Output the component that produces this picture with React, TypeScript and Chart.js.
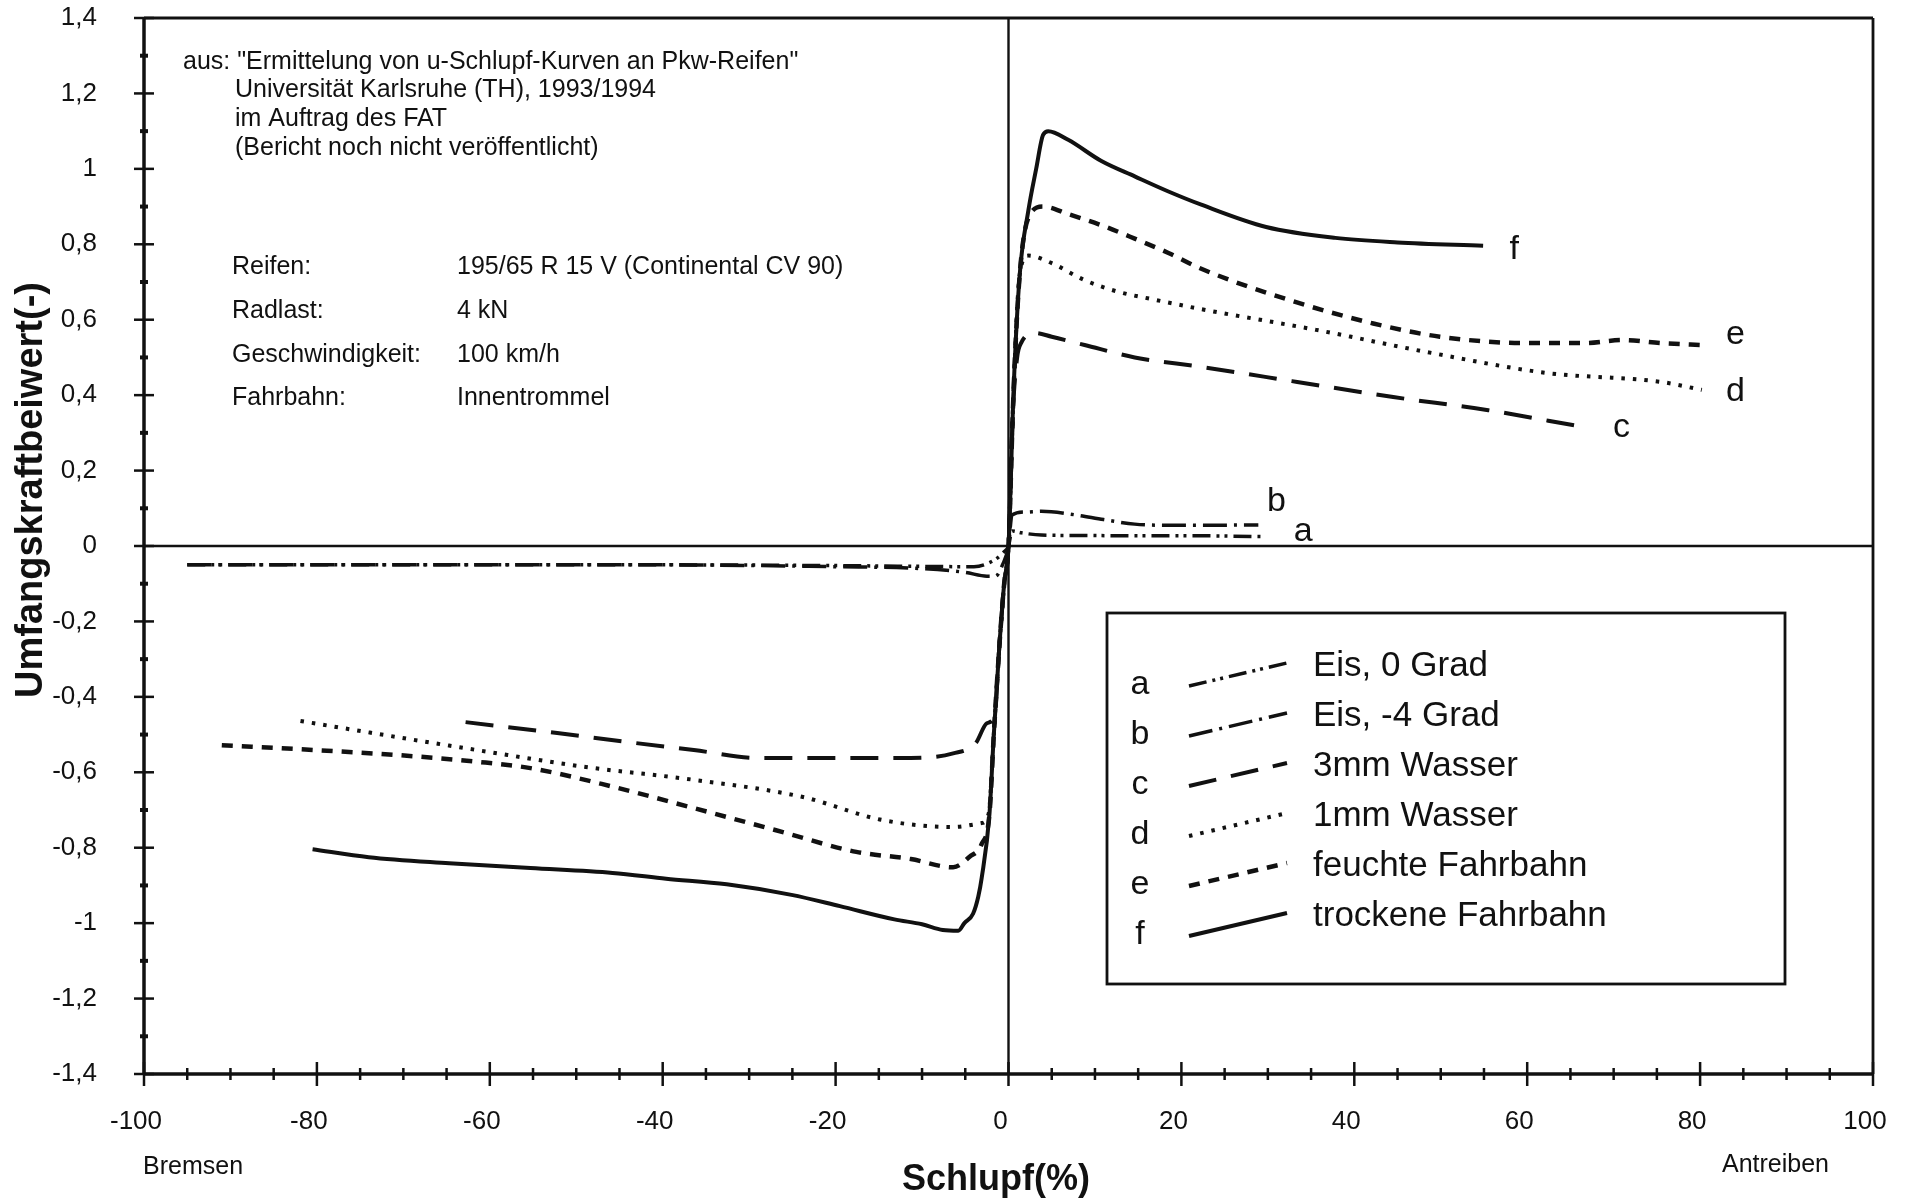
import React, { useEffect, useRef } from 'react';
import { Chart, registerables } from 'chart.js';

Chart.register(...registerables);

// ---------- data ----------
const aX = [-95, -80, -60, -40, -20, -10, -4, -1.5, -0.5, 0, 0.4, 1.5, 3.8, 8, 15, 22, 29.3];
const aY = [-0.05, -0.05, -0.05, -0.05, -0.052, -0.054, -0.055, -0.035, -0.015, 0, 0.04, 0.035, 0.029, 0.028, 0.027, 0.027, 0.025];

const bX = [-95, -80, -60, -40, -20, -10, -5, -2.5, -1.5, -0.7, 0, 0.4, 2, 3.8, 7.6, 11, 14.6, 18, 22.3, 28.9];
const bY = [-0.05, -0.05, -0.05, -0.05, -0.055, -0.06, -0.07, -0.08, -0.08, -0.05, 0, 0.082, 0.09, 0.092, 0.083, 0.07, 0.058, 0.055, 0.055, 0.056];

const cX = [-62.8, -52.2, -44, -36.4, -28.9, -20, -11.3, -6.4, -3.8, -2.5, -1.6, -1.1, -0.5, 0, 0.5, 1.0, 1.5, 3.0, 5, 8.8, 14.6, 22.3, 33.4, 44.5, 55.5, 65.9];
const cY = [-0.467, -0.496, -0.52, -0.541, -0.562, -0.562, -0.562, -0.55, -0.523, -0.47, -0.45, -0.28, -0.1, 0, 0.35, 0.5, 0.54, 0.565, 0.555, 0.533, 0.5, 0.475, 0.435, 0.395, 0.36, 0.318];

const dX = [-81.9, -70.9, -61.5, -48.9, -36.4, -23.9, -14.5, -6.4, -3.2, -2.3, -1.7, -1.1, -0.5, 0, 0.6, 1.3, 2.3, 5, 8.8, 12.7, 16.5, 22.3, 35.6, 48.9, 62.2, 75.5, 80.2];
const dY = [-0.464, -0.506, -0.541, -0.586, -0.62, -0.665, -0.727, -0.745, -0.735, -0.71, -0.5, -0.28, -0.1, 0, 0.42, 0.72, 0.77, 0.75, 0.705, 0.674, 0.655, 0.628, 0.573, 0.512, 0.459, 0.435, 0.414];

const eX = [-91, -80.3, -70.9, -61.5, -55.3, -45.8, -36.4, -27, -17.6, -11.3, -6.4, -4.5, -3.1, -2.2, -1.7, -1.1, -0.5, 0, 0.6, 1.3, 2.3, 4.0, 6.9, 10.8, 14.6, 18.5, 22.3, 32.5, 42.2, 49.9, 60, 66.6, 71, 75.5, 80.2];
const eY = [-0.528, -0.541, -0.554, -0.572, -0.589, -0.638, -0.695, -0.753, -0.811, -0.83, -0.852, -0.824, -0.79, -0.71, -0.5, -0.28, -0.1, 0, 0.42, 0.72, 0.87, 0.9, 0.88, 0.85, 0.815, 0.777, 0.735, 0.652, 0.59, 0.555, 0.538, 0.538, 0.546, 0.538, 0.533];

const fX = [-80.5, -74, -64.7, -55.3, -45.8, -39.6, -32.6, -25.1, -19.5, -13.2, -10, -7.6, -5.8, -5.1, -4.1, -3.5, -3.1, -2.2, -1.7, -1.1, -0.5, 0, 0.6, 1.3, 2.3, 3.2, 4.0, 4.6, 6.9, 10.8, 14.6, 18.5, 22.3, 29.8, 37.8, 45, 54.9];
const fY = [-0.804, -0.825, -0.841, -0.854, -0.867, -0.882, -0.897, -0.925, -0.955, -0.99, -1.003, -1.018, -1.02, -1.0, -0.975, -0.93, -0.88, -0.71, -0.5, -0.28, -0.1, 0, 0.42, 0.72, 0.89, 1.0, 1.09, 1.1, 1.077, 1.02, 0.98, 0.94, 0.905, 0.846, 0.817, 0.805, 0.796];

const seriesLetters = ['a', 'b', 'c', 'd', 'e', 'f'];
const seriesNames = ['Eis, 0 Grad', 'Eis, -4 Grad', '3mm Wasser', '1mm Wasser', 'feuchte Fahrbahn', 'trockene Fahrbahn'];
const seriesX = [aX, bX, cX, dX, eX, fX];
const seriesY = [aY, bY, cY, dY, eY, fY];

// where the curve letters sit (data coordinates)
const curveLabelX = [34.1, 31.0, 70.9, 84.1, 84.1, 58.5];
const curveLabelY = [0.037, 0.117, 0.315, 0.41, 0.56, 0.785];

const sourceLines = [
  'aus: "Ermittelung von u-Schlupf-Kurven an Pkw-Reifen"',
  'Universität Karlsruhe (TH), 1993/1994',
  'im Auftrag des FAT',
  '(Bericht noch nicht veröffentlicht)',
];
const paramLabels = ['Reifen:', 'Radlast:', 'Geschwindigkeit:', 'Fahrbahn:'];
const paramValues = ['195/65 R 15 V (Continental CV 90)', '4 kN', '100 km/h', 'Innentrommel'];

const xTitle = 'Schlupf(%)';
const yTitle = 'Umfangskraftbeiwert(-)';
const leftNote = 'Bremsen';
const rightNote = 'Antreiben';

// ---------- styles ----------
const INK = '#111';
const FONT = '"Liberation Sans", Arial, Helvetica, sans-serif';
const dashes: number[][] = [
  [18, 6, 3, 5, 3, 6],
  [24, 7, 3, 7],
  [28, 15],
  [3.5, 8],
  [11, 9],
  [],
];
const widths = [3.5, 3.5, 4, 4, 4.5, 4];

const fmt = (v: number) => {
  const r = Math.round(v * 10) / 10;
  return String(r).replace('.', ',');
};

const zeroPad = (s: any) => {
  s.paddingTop = 0;
  s.paddingBottom = 0;
  s.paddingLeft = 0;
  s.paddingRight = 0;
};

const decorPlugin = {
  id: 'decor',
  beforeDatasetsDraw(chart: any) {
    const { ctx, chartArea: ca, scales } = chart;
    const xs = scales.x;
    const ys = scales.y;
    ctx.save();
    ctx.strokeStyle = INK;
    ctx.lineCap = 'butt';
    const line = (x1: number, y1: number, x2: number, y2: number, w: number) => {
      ctx.lineWidth = w;
      ctx.beginPath();
      ctx.moveTo(x1, y1);
      ctx.lineTo(x2, y2);
      ctx.stroke();
    };
    // frame
    line(ca.left, ca.top, ca.right, ca.top, 2.8);
    line(ca.right, ca.top, ca.right, ca.bottom, 2.8);
    line(ca.left, ca.top - 1, ca.left, ca.bottom + 1, 3.5);
    line(ca.left, ca.bottom, ca.right + 1, ca.bottom, 3.5);
    // zero lines
    const x0 = xs.getPixelForValue(0);
    const y0 = ys.getPixelForValue(0);
    line(x0, ca.top, x0, ca.bottom, 2.4);
    line(ca.left, y0, ca.right, y0, 2.4);
    // y ticks: crosses at 0.2, blobs at 0.1
    for (let i = -14; i <= 14; i++) {
      const py = ys.getPixelForValue(i / 10);
      if (i % 2 === 0) line(ca.left - 10, py, ca.left + 10, py, 2.5);
      else line(ca.left - 4, py, ca.left + 4, py, 4);
    }
    // x ticks: long at 20, short at 5
    for (let v = -100; v <= 100; v += 5) {
      const px = xs.getPixelForValue(v);
      if (v % 20 === 0) line(px, ca.bottom - 12, px, ca.bottom + 12, 2.5);
      else line(px, ca.bottom - 6, px, ca.bottom + 6, 2.5);
    }
    ctx.restore();
  },
  afterDraw(chart: any) {
    const { ctx, chartArea: ca, scales } = chart;
    const xs = scales.x;
    const ys = scales.y;
    ctx.save();
    ctx.fillStyle = INK;
    ctx.strokeStyle = INK;
    ctx.textBaseline = 'middle';
    ctx.textAlign = 'left';

    // source note
    ctx.font = `25px ${FONT}`;
    ctx.fillText(sourceLines[0], ca.left + 39, ca.top + 44);
    const srcY = [72, 101, 130];
    for (let i = 1; i < sourceLines.length; i++) {
      ctx.fillText(sourceLines[i], ca.left + 91, ca.top + srcY[i - 1]);
    }
    // parameters
    const parY = [249, 293, 337, 380];
    for (let i = 0; i < paramLabels.length; i++) {
      ctx.fillText(paramLabels[i], ca.left + 88, ca.top + parY[i]);
      ctx.fillText(paramValues[i], ca.left + 313, ca.top + parY[i]);
    }

    // curve letters
    ctx.font = `34px ${FONT}`;
    ctx.textAlign = 'center';
    for (let i = 0; i < seriesLetters.length; i++) {
      ctx.fillText(seriesLetters[i], xs.getPixelForValue(curveLabelX[i]), ys.getPixelForValue(curveLabelY[i]));
    }

    // legend box
    const bx = 1107, by = 613, bw = 678, bh = 371;
    ctx.lineWidth = 2.8;
    ctx.strokeRect(bx, by, bw, bh);
    for (let i = 0; i < seriesNames.length; i++) {
      const labelY = by + 53 + i * 50;
      const letterY = labelY + 19;
      ctx.font = `34px ${FONT}`;
      ctx.textAlign = 'center';
      ctx.fillText(seriesLetters[i], bx + 33, letterY);
      ctx.save();
      ctx.setLineDash(dashes[i]);
      ctx.lineWidth = widths[i];
      ctx.beginPath();
      ctx.moveTo(bx + 82, letterY + 1);
      ctx.lineTo(bx + 180, labelY - 3);
      ctx.stroke();
      ctx.restore();
      ctx.font = `35px ${FONT}`;
      ctx.textAlign = 'left';
      ctx.fillText(seriesNames[i], bx + 206, labelY);
    }

    // bottom notes
    ctx.font = `25px ${FONT}`;
    ctx.textAlign = 'left';
    ctx.fillText(leftNote, 143, 1167);
    ctx.textAlign = 'right';
    ctx.fillText(rightNote, 1829, 1165);

    // axis titles
    ctx.font = `bold 36px ${FONT}`;
    ctx.textAlign = 'center';
    ctx.fillText(xTitle, 996, 1180);
    ctx.save();
    ctx.translate(32, 490);
    ctx.rotate(-Math.PI / 2);
    ctx.font = `bold 38px ${FONT}`;
    ctx.fillText(yTitle, 0, 0);
    ctx.restore();

    ctx.restore();
  },
};

export default function App() {
  const ref = useRef<HTMLCanvasElement | null>(null);
  useEffect(() => {
    if (!ref.current) return;
    const datasets = seriesX.map((xsArr, i) => ({
      label: seriesNames[i],
      data: xsArr.map((xv, j) => ({ x: xv, y: seriesY[i][j] })),
      borderColor: INK,
      borderWidth: widths[i],
      borderDash: dashes[i],
      borderCapStyle: 'butt' as const,
      pointRadius: 0,
      fill: false,
      cubicInterpolationMode: 'monotone' as const,
    }));
    const chart = new Chart(ref.current, {
      type: 'line',
      data: { datasets },
      options: {
        animation: false,
        responsive: false,
        maintainAspectRatio: false,
        layout: { padding: { top: 18, right: 39, left: 0, bottom: 0 } },
        plugins: { legend: { display: false }, tooltip: { enabled: false } },
        scales: {
          x: {
            type: 'linear',
            min: -100,
            max: 100,
            grid: { display: false, drawTicks: false },
            border: { display: false },
            ticks: {
              stepSize: 20,
              padding: 32,
              labelOffset: -8,
              color: INK,
              font: { family: FONT, size: 26 },
              maxRotation: 0,
              autoSkip: false,
            },
            afterFit: (s: any) => { s.height = 127; zeroPad(s); },
          },
          y: {
            type: 'linear',
            min: -1.4,
            max: 1.4,
            grid: { display: false, drawTicks: false },
            border: { display: false },
            ticks: {
              stepSize: 0.2,
              padding: 47,
              color: INK,
              font: { family: FONT, size: 26 },
              autoSkip: false,
              callback: (v: any) => fmt(Number(v)),
            },
            afterFit: (s: any) => { s.width = 144; zeroPad(s); },
          },
        },
      },
      plugins: [decorPlugin],
    });
    return () => chart.destroy();
  }, []);
  return (
    <div style={{ position: 'fixed', left: 0, top: 0, width: 1912, height: 1201, background: '#fff' }}>
      <canvas ref={ref} width={1912} height={1201} style={{ display: 'block', width: 1912, height: 1201 }} />
    </div>
  );
}
